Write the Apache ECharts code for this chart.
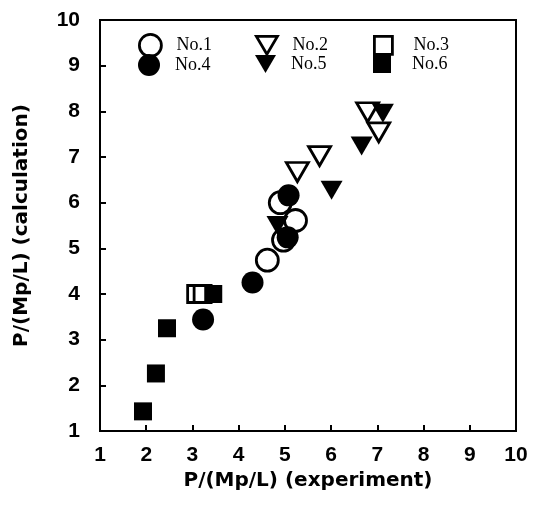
<!DOCTYPE html>
<html><head><meta charset="utf-8">
<script src="https://cdn.jsdelivr.net/npm/echarts@6/dist/echarts.min.js"></script>
<style>html,body{margin:0;padding:0;background:#fff}#c{width:538px;height:511px}</style>
</head><body><div id="c"></div>
<script>
const seriesNames = ['No.1','No.2','No.3','No.4','No.5','No.6'];
const no1 = [[4.62,4.74],[4.97,5.18],[4.9,6.0],[5.23,5.61]];
const no2 = [[5.27,6.67],[5.75,7.02],[6.79,7.98],[7.03,7.54]];
const no3 = [[3.08,4.0],[3.22,4.0]];
const no4 = [[3.23,3.44],[4.3,4.25],[5.06,5.24],[5.08,6.16]];
const no5 = [[4.84,5.5],[6.01,6.27],[6.66,7.24],[7.12,7.96]];
const no6 = [[1.93,1.43],[2.21,2.26],[2.45,3.25],[3.45,4.0]];
const xTicks = [1,2,3,4,5,6,7,8,9,10];
const yTicks = [1,2,3,4,5,6,7,8,9,10];

const downTri = 'path://M0,0 L20,0 L10,17 Z';
const open = {color:'#fff', borderColor:'#000', borderWidth:2.8, opacity:1};
const fill = {color:'#000', borderColor:'#000', borderWidth:0, opacity:1};
const defs = [
  {data:no1, symbol:'circle', size:22, style:open},
  {data:no2, symbol:downTri, size:[22,19], style:open},
  {data:no3, symbol:'rect', size:17, style:open},
  {data:no4, symbol:'circle', size:22, style:fill},
  {data:no5, symbol:downTri, size:[22,19], style:fill},
  {data:no6, symbol:'rect', size:18, style:fill}
];
const legendPos = [[133,28],[250,30],[368,30],[133,49],[250,50],[368,50]];
const legends = defs.map((d,i)=>({
  data:[{name:seriesNames[i], icon:d.symbol}],
  left:legendPos[i][0], top:legendPos[i][1],
  itemWidth: d.symbol==='rect'?18:(d.symbol==='circle'?22:21),
  itemHeight: d.symbol==='rect'?18:(d.symbol==='circle'?22:18),
  itemGap:0, selectedMode:false,
  itemStyle: d.style,
  textStyle:{fontFamily:'Liberation Serif', fontSize:18, color:'#000',
    padding:[0,0,0, d.symbol==='rect'?16:10]}
}));

const labelFont = {fontFamily:'Liberation Sans', fontSize:21, fontWeight:'bold', color:'#000'};
const nameFont = {fontFamily:'DejaVu Sans', fontSize:20, fontWeight:'bold', color:'#000'};

const chart = echarts.init(document.getElementById('c'), null, {renderer:'canvas'});
chart.setOption({
  animation:false,
  backgroundColor:'#fff',
  legend: legends,
  grid:{left:100, top:20, right:22, bottom:80, show:true, borderColor:'#000', borderWidth:2,
    containLabel:false, outerBoundsMode:'none'},
  xAxis:{type:'value', min:1, max:10, interval:1,
    name:'P/(Mp/L) (experiment)', nameLocation:'middle', nameGap:29,
    nameTextStyle:nameFont,
    axisLine:{lineStyle:{color:'#000', width:2}},
    axisTick:{inside:true, length:6, lineStyle:{color:'#000', width:2}},
    splitLine:{show:false},
    axisLabel:Object.assign({margin:14, formatter:v=>xTicks.includes(v)?String(v):''}, labelFont)},
  yAxis:{type:'value', min:1, max:10, interval:1,
    name:'P/(Mp/L) (calculation)', nameLocation:'middle', nameGap:68,
    nameTextStyle:nameFont,
    axisLine:{lineStyle:{color:'#000', width:2}},
    axisTick:{inside:true, length:6, lineStyle:{color:'#000', width:2}},
    splitLine:{show:false},
    axisLabel:Object.assign({margin:20, formatter:v=>yTicks.includes(v)?String(v):''}, labelFont)},
  series: defs.map((d,i)=>({
    name:seriesNames[i], type:'scatter', data:d.data,
    symbol:d.symbol, symbolSize:d.size, itemStyle:d.style, z:2+i
  }))
});
</script></body></html>
